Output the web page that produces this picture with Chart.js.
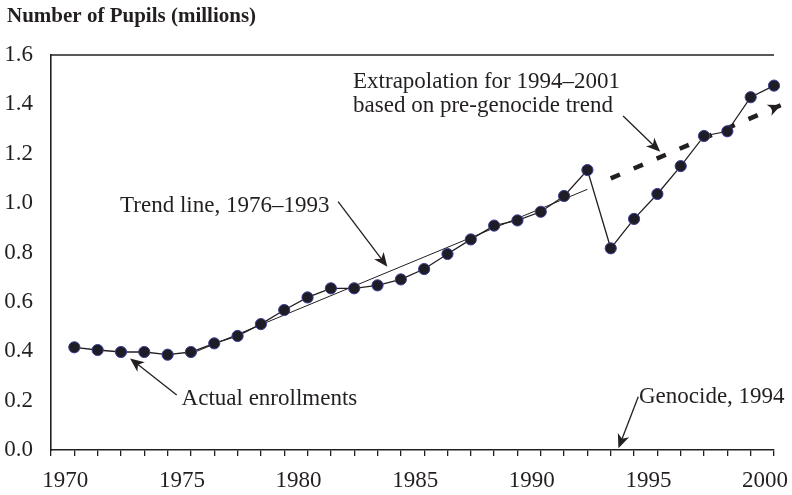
<!DOCTYPE html>
<html>
<head>
<meta charset="utf-8">
<script src="https://cdn.jsdelivr.net/npm/chart.js@4/dist/chart.umd.min.js"></script>
<style>
  html, body { margin: 0; padding: 0; background: #ffffff; }
  #wrap { width: 792px; height: 495px; }
</style>
</head>
<body>
<div id="wrap"><canvas id="c" width="792" height="495"></canvas></div>
<script>
// ---- data ----
const years = [1970, 1971, 1972, 1973, 1974, 1975, 1976, 1977, 1978, 1979,
               1980, 1981, 1982, 1983, 1984, 1985, 1986, 1987, 1988, 1989,
               1990, 1991, 1992, 1993, 1994, 1995, 1996, 1997, 1998, 1999, 2000];
const pupils = [0.416, 0.405, 0.397, 0.397, 0.386, 0.397, 0.432, 0.462, 0.510, 0.567,
                0.618, 0.655, 0.655, 0.667, 0.691, 0.733, 0.794, 0.853, 0.909, 0.930,
                0.965, 1.029, 1.134, 0.817, 0.936, 1.037, 1.150, 1.272, 1.291, 1.429, 1.476];
const trendYears = [1975, 1992];
const trendValues = [0.390, 1.056];
const extrapYears = [1993, 2000.3];
const extrapValues = [1.100, 1.397];
const yTicks = [0.0, 0.2, 0.4, 0.6, 0.8, 1.0, 1.2, 1.4, 1.6];
const xLabelYears = [1970, 1975, 1980, 1985, 1990, 1995, 2000];

const titleText = 'Number of Pupils (millions)';
const annotations = [
  { lines: ['Extrapolation for 1994\u20132001', 'based on pre-genocide trend'], x: 1981.95, y: 1.466,
    arrow: [1993.53, 1.353, 1995.12, 1.208] },
  { lines: ['Trend line, 1976\u20131993'], x: 1971.96, y: 0.963,
    arrow: [1981.31, 1.006, 1983.42, 0.742] },
  { lines: ['Actual enrollments'], x: 1974.60, y: 0.182,
    arrow: [1974.39, 0.223, 1972.39, 0.371] },
  { lines: ['Genocide, 1994'], x: 1994.21, y: 0.192,
    arrow: [1994.18, 0.216, 1993.33, 0.007] }
];

const INK = '#231f20';
const SERIF = '"Liberation Serif", "DejaVu Serif", serif';

function zip(xs, ys) { return xs.map((x, i) => ({ x: x, y: ys[i] })); }

function arrowHead(ctx, x0, y0, x1, y1, len, half) {
  const a = Math.atan2(y1 - y0, x1 - x0);
  const c = Math.cos(a), s = Math.sin(a);
  const bx = x1 - c * len, by = y1 - s * len;
  const nx = x1 - c * len * 0.72, ny = y1 - s * len * 0.72;
  ctx.beginPath();
  ctx.moveTo(x1, y1);
  ctx.lineTo(bx - s * half, by + c * half);
  ctx.lineTo(nx, ny);
  ctx.lineTo(bx + s * half, by - c * half);
  ctx.closePath();
  ctx.fill();
}

const decor = {
  id: 'decor',
  afterDatasetsDraw(chart) {
    const ctx = chart.ctx;
    const xs = chart.scales.x, ys = chart.scales.y;
    const area = chart.chartArea;
    ctx.save();
    // top frame line
    ctx.strokeStyle = INK;
    ctx.lineWidth = 1.6;
    ctx.beginPath();
    ctx.moveTo(area.left, area.top);
    ctx.lineTo(area.right, area.top);
    ctx.stroke();

    // arrowhead at end of extrapolation
    ctx.fillStyle = INK;
    const n = extrapYears.length;
    arrowHead(ctx,
      xs.getPixelForValue(extrapYears[0]), ys.getPixelForValue(extrapValues[0]),
      xs.getPixelForValue(extrapYears[n - 1]), ys.getPixelForValue(extrapValues[n - 1]), 13, 6);

    // annotations
    ctx.font = '23px ' + SERIF;
    ctx.textBaseline = 'alphabetic';
    ctx.textAlign = 'left';
    annotations.forEach(a => {
      const tx = xs.getPixelForValue(a.x), ty = ys.getPixelForValue(a.y);
      a.lines.forEach((l, i) => ctx.fillText(l, tx, ty + i * 24));
      const x0 = xs.getPixelForValue(a.arrow[0]), y0 = ys.getPixelForValue(a.arrow[1]);
      const x1 = xs.getPixelForValue(a.arrow[2]), y1 = ys.getPixelForValue(a.arrow[3]);
      ctx.lineWidth = 1.3;
      ctx.beginPath();
      ctx.moveTo(x0, y0);
      const ang = Math.atan2(y1 - y0, x1 - x0);
      ctx.lineTo(x1 - Math.cos(ang) * 8, y1 - Math.sin(ang) * 8);
      ctx.stroke();
      arrowHead(ctx, x0, y0, x1, y1, 14, 6);
    });

    // title
    ctx.font = 'bold 21px ' + SERIF;
    ctx.fillText(titleText, 7, 22);
    ctx.restore();
  }
};

new Chart(document.getElementById('c'), {
  type: 'line',
  data: {
    datasets: [
      {
        label: 'Extrapolation',
        data: zip(extrapYears, extrapValues),
        borderColor: INK,
        borderWidth: 4.5,
        borderDash: [10, 15],
        pointRadius: 0,
        clip: false,
        order: 3
      },
      {
        label: 'Trend line',
        data: zip(trendYears, trendValues),
        borderColor: INK,
        borderWidth: 1,
        pointRadius: 0,
        clip: false,
        order: 2
      },
      {
        label: 'Actual enrollments',
        data: zip(years, pupils),
        borderColor: INK,
        borderWidth: 1.3,
        pointRadius: 5.6,
        pointBackgroundColor: '#1e1c24',
        pointBorderColor: '#3b3f96',
        pointBorderWidth: 1,
        clip: false,
        order: 1
      }
    ]
  },
  options: {
    responsive: false,
    animation: false,
    devicePixelRatio: 1,
    layout: { padding: { left: 0, right: 18, top: 55, bottom: 0 } },
    plugins: { legend: { display: false }, tooltip: { enabled: false }, title: { display: false } },
    elements: { line: { tension: 0 } },
    scales: {
      x: {
        type: 'linear',
        min: 1969,
        max: 2000,
        afterBuildTicks(scale) {
          const t = [];
          for (let v = scale.min; v <= scale.max; v++) t.push({ value: v });
          scale.ticks = t;
        },
        afterFit(scale) { scale.height = 45; scale.paddingLeft = 0; scale.paddingRight = 0; },
        ticks: {
          autoSkip: false,
          maxRotation: 0,
          minRotation: 0,
          padding: 11,
          labelOffset: -9,
          color: INK,
          font: { family: SERIF, size: 23 },
          callback: (v) => xLabelYears.includes(v) ? String(v) : ''
        },
        grid: { display: true, drawOnChartArea: false, drawTicks: true, tickLength: 6, color: INK, lineWidth: 1.3 },
        border: { display: true, color: INK, width: 1.6 }
      },
      y: {
        type: 'linear',
        min: 0,
        max: 1.6,
        afterBuildTicks(scale) { scale.ticks = yTicks.map(v => ({ value: v })); },
        afterFit(scale) { scale.width = 51; scale.paddingTop = 0; scale.paddingBottom = 0; },
        ticks: {
          padding: 18,
          color: INK,
          font: { family: SERIF, size: 23 },
          callback: (v) => Number(v).toFixed(1)
        },
        grid: { display: false, drawTicks: false },
        border: { display: true, color: INK, width: 1.6 }
      }
    }
  },
  plugins: [decor]
});
</script>
</body>
</html>
